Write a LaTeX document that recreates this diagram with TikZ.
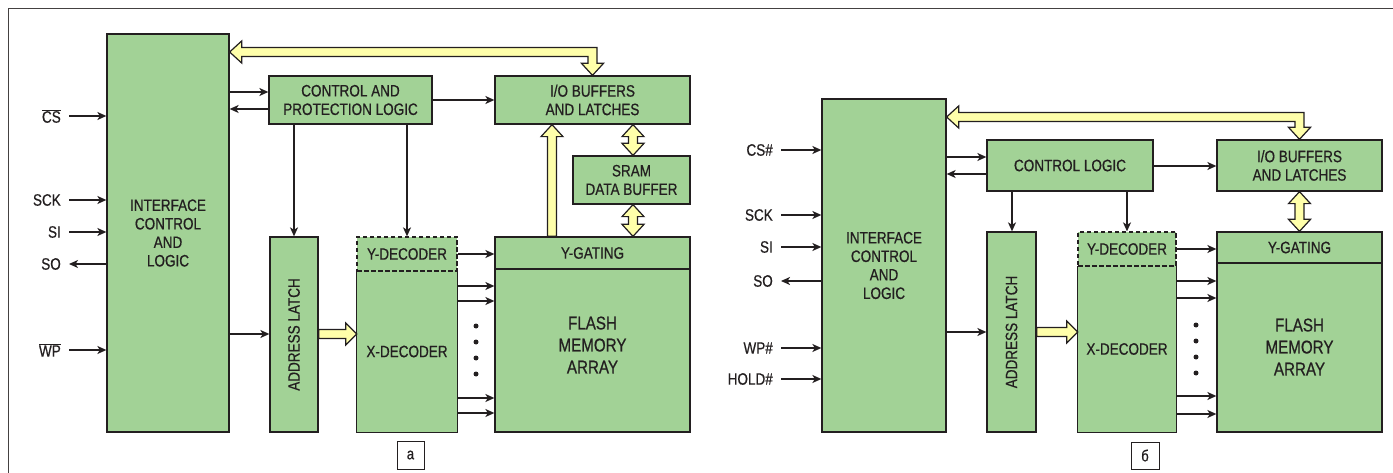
\documentclass[tikz,border=0pt]{standalone}
\usepackage{fontspec}
\setmainfont{Liberation Sans}[FakeStretch=0.82,FakeBold=0.6]
\usetikzlibrary{arrows.meta,calc}
\definecolor{gfill}{HTML}{A2D296}
\definecolor{yfill}{HTML}{FFFFAA}
\definecolor{ink}{HTML}{231F20}
\newcommand\vsingle[2]{%
\draw[bus] let \p1=(#1), \p2=(#2), \n1={((\y2>\y1)*2-1)*12} in
 ({\x1-4.5pt},\y1) -- ({\x1-4.5pt},{\y2-\n1}) -- ({\x1-11pt},{\y2-\n1}) -- (\x1,\y2)
 -- ({\x1+11pt},{\y2-\n1}) -- ({\x1+4.5pt},{\y2-\n1}) -- ({\x1+4.5pt},\y1) -- cycle;}
\newcommand\vdouble[2]{%
\draw[bus] let \p1=(#1), \p2=(#2), \n1={((\y2>\y1)*2-1)*12} in
 (\x1,\y1) -- ({\x1+11pt},{\y1+\n1}) -- ({\x1+4.5pt},{\y1+\n1}) -- ({\x1+4.5pt},{\y2-\n1})
 -- ({\x1+11pt},{\y2-\n1}) -- (\x1,\y2) -- ({\x1-11pt},{\y2-\n1}) -- ({\x1-4.5pt},{\y2-\n1})
 -- ({\x1-4.5pt},{\y1+\n1}) -- ({\x1-11pt},{\y1+\n1}) -- cycle;}
\newcommand\hsingle[2]{%
\draw[bus] let \p1=(#1), \p2=(#2), \n1={((\x2>\x1)*2-1)*11} in
 (\x1,{\y1-4.5pt}) -- ({\x2-\n1},{\y1-4.5pt}) -- ({\x2-\n1},{\y1-11pt}) -- (\x2,\y1)
 -- ({\x2-\n1},{\y1+11pt}) -- ({\x2-\n1},{\y1+4.5pt}) -- (\x1,{\y1+4.5pt}) -- cycle;}
\newcommand\lbus[2]{%
\draw[bus] let \p1=(#1), \p3=(#2) in
 (\x1,\y1) -- (\x1+12pt,\y1+11pt) -- (\x1+12pt,\y1+4.5pt) -- (\x3+4.5pt,\y1+4.5pt)
 -- (\x3+4.5pt,\y3+12pt) -- (\x3+11pt,\y3+12pt) -- (\x3,\y3) -- (\x3-11pt,\y3+12pt)
 -- (\x3-4.5pt,\y3+12pt) -- (\x3-4.5pt,\y1-4.5pt) -- (\x1+12pt,\y1-4.5pt) -- (\x1+12pt,\y1-11pt) -- cycle;}
\begin{document}
\begin{tikzpicture}[x=1pt,y=-1pt,
 box/.style={draw=ink, line width=1.3pt, fill=gfill, inner sep=0pt, align=center,
   font=\fontsize{16.5}{18.5}\selectfont, text=ink},
 nobord/.style={fill=gfill, inner sep=0pt, align=center, font=\fontsize{16.5}{18.5}\selectfont, text=ink},
 dbox/.style={box, dash pattern=on 4.5pt off 2.5pt},
 txt/.style={inner sep=0pt, align=center, font=\fontsize{16.5}{18.5}\selectfont, text=ink},
 ftxt/.style={inner sep=0pt, align=center, font=\fontsize{18.5}{22}\selectfont, text=ink},
 lbl/.style={inner xsep=8pt, inner ysep=0pt, font=\fontsize{16.5}{18.5}\selectfont, text=ink},
 tag/.style={draw=ink, line width=0.9pt, fill=white, inner sep=0pt, font=\fontsize{16}{18}\selectfont, text=ink},
 sig/.style={draw=ink, line width=1.4pt, -{Stealth[length=9pt,width=8pt,inset=2.5pt]}},
 wire/.style={draw=ink, line width=1.3pt},
 bus/.style={draw=ink, line width=1.2pt, fill=yfill, line join=miter},
 frame/.style={draw=ink!85, line width=1.3pt}]
\useasboundingbox (0,0) rectangle (1393,473);
\draw[frame] (8.5,473) -- (8.5,8.5) -- (1393,8.5);

% ===================== left diagram (a)
\node[box, minimum width=122pt, minimum height=398pt] (iface) at (168,233) {INTERFACE\\CONTROL\\AND\\LOGIC};
\node[box, minimum width=163pt, minimum height=48pt] (ctrl) at (350.5,100) {CONTROL AND\\PROTECTION LOGIC};
\node[box, minimum width=195pt, minimum height=48pt] (io) at (592.5,100) {I/O BUFFERS\\AND LATCHES};
\node[box, minimum width=117pt, minimum height=48pt] (sram) at (631.5,180) {SRAM\\DATA BUFFER};
\node[box, minimum width=48pt, minimum height=195pt] (alatch) at (294,334.5) {};
\node[txt, rotate=90] (alatchtxt) at (alatch.center) {ADDRESS LATCH};
\node[nobord, minimum width=100pt, minimum height=161pt] (xdec) at (407,351.5) {X-DECODER};
\draw[wire] (xdec.north west) -- (xdec.south west) -- (xdec.south east) -- (xdec.north east);
\node[dbox, minimum width=100pt, minimum height=34pt] (ydec) at (407,254) {Y-DECODER};
\node[box, minimum width=195pt, minimum height=195pt] (flash) at (592.5,334.5) {};
\node[box, minimum width=195pt, minimum height=32pt] (ygate) at (592.5,253) {Y-GATING};
\node[ftxt] (flashtxt) at (592.5,345) {FLASH\\MEMORY\\ARRAY};
\node[tag, minimum width=27pt, minimum height=28pt] (taga) at (410.5,455) {а};

\node[lbl, anchor=east] (lcs) at (69,116) {$\overline{\mbox{CS}}$};
\node[lbl, anchor=east] (lsck) at (69,200) {SCK};
\node[lbl, anchor=east] (lsi) at (69,232) {SI};
\node[lbl, anchor=east] (lso) at (69,264) {SO};
\node[lbl, anchor=east] (lwp) at (69,350) {$\overline{\mbox{WP}}$};
\foreach \n in {lcs,lsck,lsi,lwp} \draw[sig] (\n.east) -- (\n.east -| iface.west);
\draw[sig] (lso.east -| iface.west) -- (lso.east);

\coordinate (ya1) at (0,92);
\coordinate (ya2) at (0,109);
\coordinate (yal) at (0,334);
\coordinate (xal) at (294,0);
\draw[sig] (iface.east |- ya1) -- (ctrl.west |- ya1);
\draw[sig] (ctrl.west |- ya2) -- (iface.east |- ya2);
\draw[sig] (ctrl.east) -- (ctrl.east -| io.west);
\draw[sig] (ctrl.south -| xal) -- (alatch.north -| xal);
\draw[sig] (ctrl.south -| ydec.north) -- (ydec.north);
\draw[sig] (iface.east |- yal) -- (alatch.west |- yal);
\draw[sig] (ydec.east) -- (ydec.east -| ygate.west);
\foreach \yy in {286,301,398,413} {
  \coordinate (xa) at (0,\yy);
  \draw[sig] (xdec.east |- xa) -- (flash.west |- xa);}
\foreach \yy in {326,342,358,374} \fill[ink] (476,\yy) circle (2.5pt);

\coordinate (yb1) at (0,52);
\coordinate (xup) at (552,0);
\coordinate (xdb) at (633,0);
\lbus{iface.east |- yb1}{io.north}
\vsingle{ygate.north -| xup}{io.south -| xup}
\vdouble{io.south -| xdb}{sram.north -| xdb}
\vdouble{sram.south -| xdb}{ygate.north -| xdb}
\hsingle{alatch.east |- yal}{xdec.west}

% ===================== right diagram (b)
\node[box, minimum width=124pt, minimum height=333pt] (iface2) at (884,265.5) {INTERFACE\\CONTROL\\AND\\LOGIC};
\node[box, minimum width=166pt, minimum height=51pt] (ctrl2) at (1070,165.5) {CONTROL LOGIC};
\node[box, minimum width=165pt, minimum height=51pt] (io2) at (1299.5,165.5) {I/O BUFFERS\\AND LATCHES};
\node[box, minimum width=49pt, minimum height=200pt] (alatch2) at (1011.5,332) {};
\node[txt, rotate=90] (alatchtxt2) at (alatch2.center) {ADDRESS LATCH};
\node[nobord, minimum width=98pt, minimum height=166pt] (xdec2) at (1127,349) {X-DECODER};
\draw[wire] (xdec2.north west) -- (xdec2.south west) -- (xdec2.south east) -- (xdec2.north east);
\node[dbox, minimum width=98pt, minimum height=34pt] (ydec2) at (1127,249) {Y-DECODER};
\node[box, minimum width=165pt, minimum height=200pt] (flash2) at (1299.5,332) {};
\node[box, minimum width=165pt, minimum height=31pt] (ygate2) at (1299.5,247.5) {Y-GATING};
\node[ftxt] (flashtxt2) at (1299.5,347) {FLASH\\MEMORY\\ARRAY};
\node[tag, minimum width=28pt, minimum height=27pt] (tagb) at (1145,455.5) {б};

\node[lbl, anchor=east] (rcs) at (781,150) {CS\#};
\node[lbl, anchor=east] (rsck) at (781,215) {SCK};
\node[lbl, anchor=east] (rsi) at (781,247) {SI};
\node[lbl, anchor=east] (rso) at (781,281) {SO};
\node[lbl, anchor=east] (rwp) at (781,348) {WP\#};
\node[lbl, anchor=east] (rhold) at (781,379) {HOLD\#};
\foreach \n in {rcs,rsck,rsi,rwp,rhold} \draw[sig] (\n.east) -- (\n.east -| iface2.west);
\draw[sig] (rso.east -| iface2.west) -- (rso.east);

\coordinate (yr1) at (0,157);
\coordinate (yr2) at (0,174);
\coordinate (yr3) at (0,166);
\coordinate (xal2) at (1012,0);
\draw[sig] (iface2.east |- yr1) -- (ctrl2.west |- yr1);
\draw[sig] (ctrl2.west |- yr2) -- (iface2.east |- yr2);
\draw[sig] (ctrl2.east |- yr3) -- (io2.west |- yr3);
\draw[sig] (ctrl2.south -| xal2) -- (alatch2.north -| xal2);
\draw[sig] (ctrl2.south -| ydec2.north) -- (ydec2.north);
\draw[sig] (alatch2.west -| iface2.east) -- (alatch2.west);
\draw[sig] (ydec2.east) -- (ydec2.east -| ygate2.west);
\foreach \yy in {281,298,396,414} {
  \coordinate (xb) at (0,\yy);
  \draw[sig] (xdec2.east |- xb) -- (flash2.west |- xb);}
\foreach \yy in {325,341,357,373} \fill[ink] (1196,\yy) circle (2.5pt);

\coordinate (yb2) at (0,117);
\lbus{iface2.east |- yb2}{io2.north}
\vdouble{io2.south}{ygate2.north}
\hsingle{alatch2.east}{xdec2.west}
\end{tikzpicture}
\end{document}
